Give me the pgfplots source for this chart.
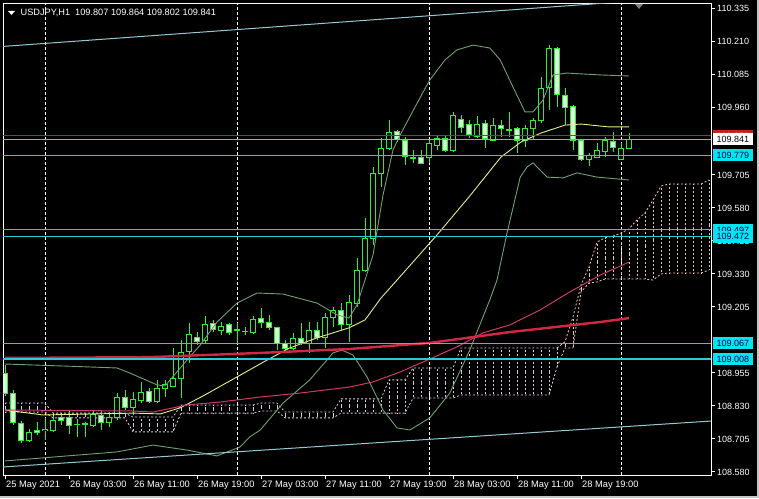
\documentclass[border=0pt]{standalone}
\usepackage{pgfplots}
\pgfplotsset{compat=1.18}
\usepackage{pgfplotstable}
\usepackage{fontspec}
\setmainfont{Liberation Sans}

\definecolor{cgreen}{RGB}{50,235,50}
\definecolor{cbear}{RGB}{215,250,215}
\definecolor{bband}{RGB}{112,160,112}
\definecolor{midband}{RGB}{235,235,140}
\definecolor{pinkma}{RGB}{200,60,110}
\definecolor{redma}{RGB}{210,40,70}
\definecolor{hline}{RGB}{40,205,210}
\definecolor{lbox}{RGB}{0,230,240}
\definecolor{chan}{RGB}{150,200,210}
\definecolor{thist}{RGB}{220,200,220}
\definecolor{sandy}{RGB}{240,195,170}
\definecolor{askred}{RGB}{200,30,30}

% hourly candles, h = hours from 26 May 00:00
\pgfplotstableread{
h O H L C
-5 108.955 108.985 108.868 108.879
-4 108.879 108.891 108.758 108.769
-3 108.766 108.773 108.690 108.701
-2 108.701 108.743 108.694 108.732
-1 108.739 108.769 108.720 108.732
0 108.739 108.785 108.701 108.743
1 108.739 108.792 108.732 108.777
2 108.788 108.800 108.758 108.777
3 108.788 108.815 108.724 108.758
4 108.762 108.781 108.713 108.760
5 108.762 108.769 108.713 108.764
6 108.758 108.811 108.751 108.800
7 108.796 108.815 108.739 108.769
8 108.766 108.807 108.751 108.788
9 108.788 108.879 108.777 108.864
10 108.864 108.891 108.815 108.826
11 108.826 108.883 108.796 108.857
12 108.853 108.921 108.841 108.883
13 108.887 108.898 108.841 108.849
14 108.849 108.929 108.841 108.898
15 108.898 108.929 108.864 108.910
16 108.906 109.050 108.902 108.936
17 108.936 109.080 108.860 109.035
18 109.035 109.144 108.993 109.099
19 109.091 109.110 109.061 109.076
20 109.080 109.171 109.065 109.141
21 109.144 109.156 109.110 109.118
22 109.118 109.148 109.099 109.133
23 109.137 109.144 109.099 109.107
24 109.121 109.144 109.069 109.119
25 109.114 109.129 109.099 109.112
26 109.110 109.171 109.103 109.160
27 109.160 109.201 109.126 109.148
28 109.148 109.175 109.118 109.126
29 109.126 109.129 109.042 109.069
30 109.069 109.080 109.035 109.050
31 109.050 109.107 109.042 109.088
32 109.088 109.144 109.061 109.069
33 109.069 109.148 109.031 109.118
34 109.118 109.148 109.080 109.091
35 109.091 109.182 109.050 109.167
36 109.167 109.205 109.129 109.194
37 109.194 109.220 109.118 109.141
38 109.141 109.250 109.072 109.224
39 109.220 109.391 109.205 109.345
40 109.345 109.542 109.338 109.463
41 109.463 109.735 109.440 109.709
42 109.709 109.845 109.660 109.807
43 109.807 109.913 109.800 109.868
44 109.868 109.876 109.830 109.838
45 109.838 109.849 109.743 109.777
46 109.773 109.800 109.751 109.770
47 109.773 109.800 109.747 109.751
48 109.773 109.838 109.751 109.823
49 109.819 109.857 109.800 109.845
50 109.845 109.857 109.792 109.800
51 109.800 109.944 109.792 109.932
52 109.917 109.932 109.864 109.883
53 109.898 109.913 109.845 109.860
54 109.853 109.929 109.845 109.898
55 109.898 109.913 109.807 109.841
56 109.838 109.921 109.838 109.894
57 109.894 109.913 109.849 109.883
58 109.879 109.944 109.849 109.876
59 109.883 109.887 109.788 109.838
60 109.838 109.894 109.811 109.883
61 109.883 109.921 109.838 109.913
62 109.913 110.076 109.902 110.035
63 110.038 110.197 109.951 110.186
64 110.186 110.190 109.963 110.008
65 110.008 110.035 109.894 109.963
66 109.967 109.970 109.800 109.838
67 109.838 109.838 109.758 109.766
68 109.766 109.788 109.739 109.781
69 109.773 109.826 109.770 109.800
70 109.796 109.849 109.773 109.838
71 109.834 109.868 109.792 109.811
72 109.766 109.826 109.762 109.807
73 109.807 109.864 109.802 109.841
}\candles

% bollinger bands
\pgfplotstableread{
h v
-5 108.989
2.75 108.981
9 108.974
10.6 108.955
14 108.910
15 108.906
17.75 109.004
19.4 109.061
21.5 109.148
24 109.220
26.5 109.258
29.75 109.254
34 109.220
36.5 109.175
38 109.163
39 109.213
40 109.307
41 109.402
42.25 109.629
43.5 109.800
44.4 109.857
46.6 109.982
48.1 110.065
50 110.141
51.5 110.179
53.5 110.197
55.6 110.186
56.9 110.141
58.5 110.038
60 109.944
61 109.944
62.25 109.989
63.5 110.084
65.25 110.091
69.4 110.084
73 110.080
}\bbup

\pgfplotstableread{
h v
-5 108.622
9 108.656
13.5 108.682
17.75 108.663
21.5 108.641
24.4 108.675
25.6 108.713
26.9 108.739
29.75 108.841
33.1 108.929
36 109.031
37.1 109.042
38.5 109.023
40.25 108.940
42.25 108.815
44 108.747
45.6 108.739
48.1 108.785
50.6 108.879
53.1 109.042
55.6 109.232
56.5 109.307
57.75 109.485
59.4 109.697
60.25 109.735
61 109.751
62.75 109.697
64.75 109.694
66.5 109.713
69 109.697
73 109.686
}\bblow

\pgfplotstableread{
h v
-5 108.815
-0.25 108.796
11 108.803
14.4 108.800
16.9 108.823
19.75 108.868
24 108.940
27.75 109.004
30.6 109.050
34 109.088
38 109.126
40 109.156
42 109.239
44 109.307
49 109.478
53 109.622
57 109.773
59.5 109.830
62 109.864
65 109.894
67 109.898
70.5 109.887
73 109.887
}\bbmid

\pgfplotstableread{
h v
-5 109.012
13.1 109.015
26.9 109.031
38.1 109.046
48.1 109.069
58.1 109.110
69.4 109.148
73 109.163
}\maslow

\pgfplotstableread{
h v
-5 108.815
11 108.811
13.5 108.807
17.75 108.834
21.9 108.845
26.9 108.864
31.9 108.879
38.1 108.902
41 108.921
44.4 108.959
48.1 109.008
51.5 109.054
54.75 109.107
58.1 109.137
61.9 109.194
65.6 109.262
69.4 109.326
73 109.375
}\mafast

% cloud: top and bottom edge per bar
\pgfplotstableread{
h T B
-5 108.841 108.807
-4 108.841 108.807
-3 108.841 108.807
-2 108.841 108.807
-1 108.841 108.807
0 108.841 108.807
1 108.803 108.785
2 108.803 108.785
3 108.803 108.785
4 108.803 108.785
5 108.803 108.785
6 108.803 108.785
7 108.803 108.785
8 108.803 108.785
9 108.803 108.785
10 108.803 108.785
11 108.788 108.732
12 108.788 108.732
13 108.788 108.732
14 108.788 108.732
15 108.788 108.732
16 108.788 108.732
17 108.834 108.803
18 108.834 108.803
19 108.834 108.803
20 108.834 108.803
21 108.834 108.803
22 108.834 108.803
23 108.834 108.803
24 108.834 108.803
25 108.834 108.803
26 108.834 108.803
27 108.841 108.811
28 108.841 108.811
29 108.841 108.811
30 108.807 108.785
31 108.807 108.785
32 108.807 108.785
33 108.807 108.785
34 108.807 108.785
35 108.807 108.785
36 108.807 108.785
37 108.857 108.803
38 108.857 108.803
39 108.857 108.803
40 108.857 108.803
41 108.857 108.803
42 108.857 108.803
43 108.929 108.803
44 108.929 108.803
45 108.929 108.803
46 108.974 108.860
47 108.974 108.860
48 108.974 108.860
49 108.974 108.860
50 108.974 108.860
51 108.974 108.860
52 109.050 108.872
53 109.050 108.872
54 109.050 108.872
55 109.050 108.872
56 109.050 108.872
57 109.050 108.872
58 109.050 108.872
59 109.050 108.872
60 109.050 108.872
61 109.050 108.872
62 109.050 108.872
63 109.050 108.872
64 109.050 108.978
65 109.073 109.050
66 109.167 109.050
67 109.288 109.262
68 109.357 109.296
69 109.451 109.300
70 109.467 109.311
71 109.474 109.311
72 109.485 109.311
73 109.501 109.311
74 109.535 109.311
75 109.561 109.311
76 109.610 109.307
77 109.663 109.330
78 109.671 109.334
79 109.671 109.334
80 109.671 109.334
81 109.671 109.334
82 109.671 109.334
83 109.686 109.345
}\cloud

\begin{document}
\begin{tikzpicture}
\path[use as bounding box] (0pt,0pt) rectangle (759pt,498pt);
\fill[black] (0pt,0pt) rectangle (759pt,498pt);
\draw[gray!45, line width=2pt] (0pt,1pt) -- (758pt,1pt) -- (758pt,498pt);
\begin{axis}[
    at={(3pt,23pt)}, anchor=south west,
    scale only axis,
    width=708pt, height=471pt,
    xmin=-5.25, xmax=83.25,
    ymin=108.5686, ymax=110.3527,
    clip mode=individual,
    axis line style={white, line width=1pt},
    tick style={white, line width=1pt},
    tick align=outside,
    major tick length=4pt,
    xtick pos=bottom,
    ytick pos=right,
    yticklabel pos=right,
    xtick={-5,3,11,19,27,35,43,51,59,67},
    xticklabels={25 May 2021,26 May 03:00,26 May 11:00,26 May 19:00,27 May 03:00,27 May 11:00,27 May 19:00,28 May 03:00,28 May 11:00,28 May 19:00},
    ytick={108.580,108.705,108.830,108.955,109.205,109.330,109.455,109.580,109.705,109.960,110.085,110.210,110.335},
    yticklabels={108.580,108.705,108.830,108.955,109.205,109.330,109.455,109.580,109.705,109.960,110.085,110.210,110.335},
    xticklabel style={anchor=north west, inner sep=0pt, xshift=1pt, yshift=-2pt, text=white, font=\fontsize{9.3}{10}\selectfont},
    yticklabel style={anchor=west, inner sep=0pt, xshift=2pt, text=white, font=\fontsize{9}{10}\selectfont},
    extra x ticks={0,24,48,72},
    extra x tick labels={},
    extra x tick style={grid=major, major tick length=0pt},
    major grid style={white, line width=1pt, dash pattern=on 3pt off 2pt},
]

% cloud hatching
\addplot[draw=none, mark=none, restrict x to domain=-6:64,
    error bars/.cd, y dir=both, y explicit, error mark=none,
    error bar style={draw=thist, line width=0.8pt, dash pattern=on 2pt off 2pt}]
    table[x=h, y expr={(\thisrow{T}+\thisrow{B})/2}, y error expr={abs(\thisrow{T}-\thisrow{B})/2}] {\cloud};
\addplot[draw=none, mark=none, restrict x to domain=64.5:84,
    error bars/.cd, y dir=both, y explicit, error mark=none,
    error bar style={draw=sandy, line width=0.8pt, dash pattern=on 2pt off 2pt}]
    table[x=h, y expr={(\thisrow{T}+\thisrow{B})/2}, y error expr={abs(\thisrow{T}-\thisrow{B})/2}] {\cloud};
\addplot[thist, line width=0.8pt, dash pattern=on 2pt off 2pt, restrict x to domain=-6:64] table[x=h, y=T] {\cloud};
\addplot[thist, line width=0.8pt, dash pattern=on 2pt off 2pt, restrict x to domain=-6:64] table[x=h, y=B] {\cloud};
\addplot[sandy, line width=0.8pt, dash pattern=on 2pt off 2pt, restrict x to domain=64:84] table[x=h, y=T] {\cloud};
\addplot[sandy, line width=0.8pt, dash pattern=on 2pt off 2pt, restrict x to domain=64:84] table[x=h, y=B] {\cloud};

% candles: wicks, body outline, body fill
\addplot[draw=none, mark=none,
    error bars/.cd, y dir=both, y explicit, error mark=none,
    error bar style={draw=cgreen, line width=1pt}]
    table[x=h, y expr={(\thisrow{H}+\thisrow{L})/2}, y error expr={(\thisrow{H}-\thisrow{L})/2}] {\candles};
\addplot[draw=none, mark=none,
    error bars/.cd, y dir=both, y explicit, error mark=none,
    error bar style={draw=cgreen, line width=5.5pt}]
    table[x=h, y expr={(\thisrow{O}+\thisrow{C})/2}, y error expr={abs(\thisrow{O}-\thisrow{C})/2+0.0019}] {\candles};
\addplot[draw=none, mark=none,
    error bars/.cd, y dir=both, y explicit, error mark=none,
    error bar style={draw=black, line width=3.5pt}]
    table[x=h, y expr={(\thisrow{O}+\thisrow{C})/2}, y error expr={(\thisrow{C}>\thisrow{O}) ? max(abs(\thisrow{O}-\thisrow{C})/2-0.0019,0) : 0}] {\candles};
\addplot[draw=none, mark=none,
    error bars/.cd, y dir=both, y explicit, error mark=none,
    error bar style={draw=cbear, line width=3.5pt}]
    table[x=h, y expr={(\thisrow{O}+\thisrow{C})/2}, y error expr={(\thisrow{C}>\thisrow{O}) ? 0 : max(abs(\thisrow{O}-\thisrow{C})/2-0.0019,0)}] {\candles};

% indicators
\addplot[bband, line width=0.9pt] table[x=h, y=v] {\bbup};
\addplot[bband, line width=0.9pt] table[x=h, y=v] {\bblow};
\addplot[midband, line width=0.9pt] table[x=h, y=v] {\bbmid};
\addplot[pinkma, line width=1pt] table[x=h, y=v] {\mafast};
\addplot[redma, line width=2.4pt] table[x=h, y=v] {\maslow};

% channel
\addplot[chan, line width=1pt] coordinates {(-5.25,110.192) (83.25,110.385)};
\addplot[chan, line width=1pt] coordinates {(-5.25,108.599) (83.25,108.773)};

% horizontal levels, ask and bid
\addplot[hline, line width=1.1pt] coordinates {(-5.25,109.779) (83.25,109.779)};
\addplot[hline, line width=1.1pt] coordinates {(-5.25,109.497) (83.25,109.497)};
\addplot[hline, line width=1.1pt] coordinates {(-5.25,109.472) (83.25,109.472)};
\addplot[hline, line width=1.1pt] coordinates {(-5.25,109.067) (83.25,109.067)};
\addplot[hline, line width=1.1pt] coordinates {(-5.25,109.008) (83.25,109.008)};
\addplot[askred, line width=1pt] coordinates {(-5.25,109.853) (83.25,109.853)};
\addplot[gray!70, line width=1pt] coordinates {(-5.25,109.841) (83.25,109.841)};

\coordinate (ask) at (axis cs:83.25,109.853);
\coordinate (bid) at (axis cs:83.25,109.841);
\coordinate (l1) at (axis cs:83.25,109.779);
\coordinate (l2) at (axis cs:83.25,109.497);
\coordinate (l3) at (axis cs:83.25,109.472);
\coordinate (l4) at (axis cs:83.25,109.067);
\coordinate (l5) at (axis cs:83.25,109.008);
\end{axis}

\tikzset{plab/.style={anchor=west, xshift=2pt, inner xsep=3.5pt, inner ysep=0pt,
    minimum height=12pt, font=\fontsize{9}{10}\selectfont}}
\node[plab, fill=askred, text=white] at (ask) {109.853};
\node[plab, fill=white, text=black] at (bid) {109.841};
\node[plab, fill=lbox, text=black!70!blue] at (l1) {109.779};
\node[plab, fill=lbox, text=black!70!blue] at (l2) {109.497};
\node[plab, fill=lbox, text=black!70!blue] at (l3) {109.472};
\node[plab, fill=lbox, text=black!70!blue] at (l4) {109.067};
\node[plab, fill=lbox, text=black!70!blue] at (l5) {109.008};

\fill[white] (8pt,487pt) -- (15pt,487pt) -- (11.5pt,483pt) -- cycle;
\node[anchor=base west, inner sep=0pt, text=white, font=\fontsize{9.2}{10}\selectfont]
    at (20.5pt,482pt) {USDJPY,H1\ \ 109.807 109.864 109.802 109.841};
\fill[gray] (635pt,494pt) -- (643pt,494pt) -- (639pt,489pt) -- cycle;
\end{tikzpicture}
\end{document}
